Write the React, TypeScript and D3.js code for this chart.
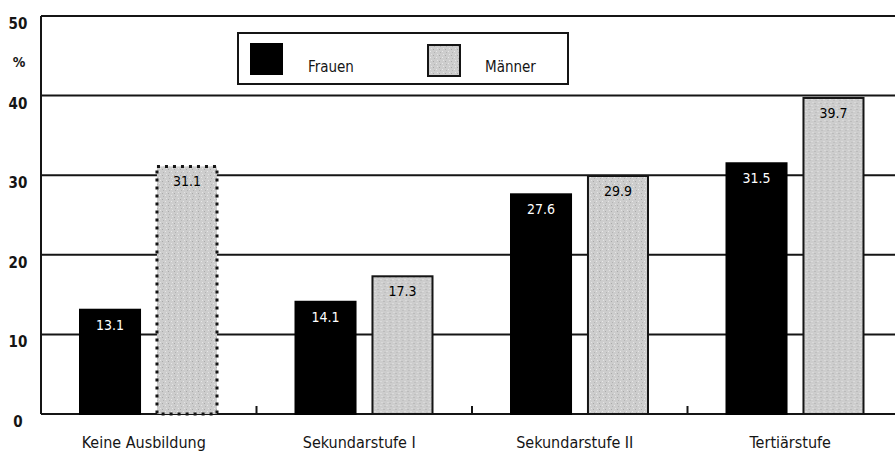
import * as d3 from "d3"

const categories = ["Keine Ausbildung", "Sekundarstufe I", "Sekundarstufe II", "Tertiärstufe"]
const seriesNames = ["Frauen", "Männer"]
const frauen = [13.1, 14.1, 27.6, 31.5]
const maenner = [31.1, 17.3, 29.9, 39.7]
const yTicks = [0, 10, 20, 30, 40, 50]

const W = 895
const H = 454
const FONT = "'Liberation Sans Narrow', 'Arial Narrow', 'DejaVu Sans Condensed', sans-serif"
const INK = "#151515"
const GREY = "#cdcdcd"

export default function App() {
  const y = d3.scaleLinear().domain([0, 50]).range([414, 16])
  const x0 = d3.scaleBand<string>().domain(categories).range([41, 903])
  const x1 = d3
    .scaleBand<string>()
    .domain(seriesNames)
    .range([39, 176])
    .paddingInner(0.22)

  const values: Record<string, number[]> = { Frauen: frauen, Männer: maenner }

  return (
    <svg
      width={W}
      height={H}
      style={{ position: "absolute", left: 0, top: 0, background: "#fff" }}
      fontFamily={FONT}
    >
      <defs>
        <pattern id="stipple" width="6" height="6" patternUnits="userSpaceOnUse">
          <rect width="6" height="6" fill={GREY} />
          <rect x="1" y="1" width="1" height="1" fill="#a9a9a9" />
          <rect x="4" y="3" width="1" height="1" fill="#e8e8e8" />
          <rect x="2" y="4" width="1" height="1" fill="#b3b3b3" />
          <rect x="5" y="0" width="1" height="1" fill="#e4e4e4" />
        </pattern>
      </defs>

      {/* gridlines */}
      {yTicks.map((t) => (
        <line key={t} x1={41} x2={W} y1={y(t)} y2={y(t)} stroke={INK} strokeWidth={2} />
      ))}
      <line x1={41} x2={41} y1={y(50)} y2={y(0)} stroke={INK} strokeWidth={2} />

      {/* y labels */}
      {yTicks.map((t) => (
        <text
          key={t}
          x={18}
          y={y(t) + 13}
          textAnchor="middle"
          fontSize={15}
          fontWeight="bold"
          fill={INK}
        >
          {t}
        </text>
      ))}
      <text x={19} y={67} textAnchor="middle" fontSize={14} fontWeight="bold" fill={INK}>
        %
      </text>

      {/* group separators */}
      {categories.slice(1).map((c) => (
        <line key={c} x1={x0(c)!} x2={x0(c)!} y1={y(0)} y2={y(0) - 8} stroke={INK} strokeWidth={2} />
      ))}

      {/* bars */}
      {categories.map((c, i) => (
        <g key={c} transform={`translate(${x0(c)},0)`}>
          {seriesNames.map((s) => {
            const v = values[s][i]
            const bx = x1(s)!
            const bw = x1.bandwidth()
            const isF = s === "Frauen"
            const dotted = !isF && i === 0
            return (
              <g key={s}>
                <rect
                  x={bx}
                  y={y(v)}
                  width={bw}
                  height={y(0) - y(v)}
                  fill={isF ? "#000" : "url(#stipple)"}
                  stroke={isF ? "#000" : INK}
                  strokeWidth={dotted ? 3 : 2}
                  strokeDasharray={dotted ? "3 5" : undefined}
                />
                <text
                  x={bx + bw / 2}
                  y={y(v) + 20}
                  textAnchor="middle"
                  fontSize={14}
                  fill={isF ? "#fff" : "#000"}
                >
                  {v.toFixed(1)}
                </text>
              </g>
            )
          })}
          <text
            x={x0.bandwidth() / 2 - 5}
            y={448}
            textAnchor="middle"
            fontSize={16}
            fill={INK}
          >
            {c}
          </text>
        </g>
      ))}

      {/* legend */}
      <g>
        <rect x={238} y={33} width={330} height={51} fill="#fff" stroke={INK} strokeWidth={2} />
        <rect x={250} y={43} width={33} height={32} fill="#000" />
        <text x={308} y={72} fontSize={15} fill={INK}>
          {seriesNames[0]}
        </text>
        <rect x={428} y={45} width={32} height={31} fill="url(#stipple)" stroke={INK} strokeWidth={2} />
        <text x={485} y={72} fontSize={15} fill={INK}>
          {seriesNames[1]}
        </text>
      </g>
    </svg>
  )
}
